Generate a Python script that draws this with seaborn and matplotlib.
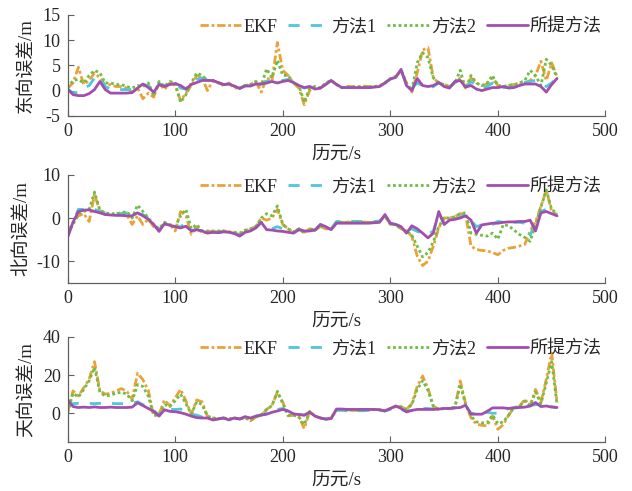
import matplotlib
matplotlib.use("Agg")
import matplotlib.pyplot as plt
import seaborn as sns
import pandas as pd

# sampling epochs (s), one value every 5 s
epoch = list(range(0, 460, 5))

methods = ["EKF", "方法1", "方法2", "所提方法"]
colors = {"EKF": "#E8A238", "方法1": "#4FC6D9", "方法2": "#6DBE45", "所提方法": "#A14FAE"}
styles = {"EKF": (0, (3, 1, 1, 1)), "方法1": (0, (4, 4)), "方法2": (0, (1, 1)), "所提方法": "-"}

# east error (m)
east_ekf = [0.5, 1.5, 4.6, 1.2, 2.0, 3.5, 2.5, 1.0, 1.2, 0.8,
            0.8, 0.5, -0.3, 0.5, -1.6, -0.5, -1.3, 1.5, 0.2, 1.5,
            1.0, -2.0, -0.5, 1.0, 3.0, 2.5, 0.0, 2.0, 1.5, 1.0,
            1.5, 0.5, 0.5, 1.0, 1.2, 1.8, -0.3, 2.5, 2.0, 9.5,
            4.0, 3.0, 1.5, 0.5, -2.8, 0.0, 0.8, 0.5, 1.5, 2.0,
            1.2, 0.6, 0.8, 0.8, 0.8, 0.9, 0.8, 0.8, 1.0, 1.5,
            2.3, 2.8, 4.0, 1.5, -0.3, 3.5, 8.0, 8.5, 2.5, 1.5,
            1.2, 0.8, 1.5, 2.5, 0.5, 2.5, 1.5, 1.0, 1.3, 2.5,
            1.0, 0.8, 1.0, 1.2, 1.3, 1.5, 2.0, 3.0, 5.8, 2.0,
            5.5, 2.8]
east_m1 = [0.3, -0.5, -0.3, 0.5, 1.0, 2.5, 2.8, 0.8, 0.3, 0.2,
           0.2, 0.2, 0.2, 0.8, 1.2, 1.0, 0.0, 1.3, 1.0, 1.3,
           1.5, 0.5, 0.3, 1.5, 2.2, 2.5, 2.2, 2.0, 1.6, 1.2,
           1.3, 0.9, 0.5, 1.0, 1.0, 1.5, 1.4, 1.8, 2.0, 1.8,
           2.0, 2.2, 1.6, 1.0, 0.5, 0.8, 0.4, 0.5, 1.3, 2.0,
           1.2, 0.6, 0.6, 0.6, 0.6, 0.6, 0.6, 0.7, 0.8, 1.5,
           2.3, 2.7, 4.0, 1.2, 0.5, 1.5, 1.0, 0.5, 0.8, 1.5,
           1.0, 0.6, 1.6, 2.2, 0.5, 1.8, 1.0, 0.5, 0.8, 1.5,
           0.5, 0.6, 0.7, 1.0, 1.3, 1.6, 1.8, 2.0, 1.5, 0.8,
           1.5, 2.5]
east_m2 = [0.5, 2.0, 2.2, 1.5, 3.0, 4.0, 3.5, 1.5, 1.5, 1.2,
           1.2, 0.8, 0.5, 1.0, 0.8, 1.5, -1.0, 1.8, 0.8, 1.8,
           1.5, -2.3, -0.8, 1.5, 3.5, 3.0, 2.0, 2.0, 1.5, 1.2,
           1.3, 0.8, 0.5, 1.0, 1.2, 1.8, 1.0, 4.3, 2.5, 6.0,
           3.0, 3.0, 1.5, 1.0, -2.3, 0.5, 0.8, 0.5, 1.5, 2.0,
           1.2, 0.6, 0.7, 0.7, 0.7, 0.7, 0.7, 0.7, 0.9, 1.5,
           2.3, 2.8, 4.0, 1.5, 0.0, 5.5, 7.5, 6.5, 2.5, 1.5,
           1.2, 0.8, 1.5, 4.0, 0.3, 3.0, 1.5, 1.0, 1.5, 3.0,
           1.0, 0.8, 1.0, 1.2, 1.5, 2.0, 4.0, 3.0, 1.0, 6.2,
           5.0, 2.6]
east_ours = [0.3, -0.8, -1.0, -1.0, -0.6, 0.2, 1.8, 0.2, -0.5, -0.5,
             -0.5, -0.5, -0.4, 0.5, 1.3, 0.6, -0.3, 1.2, 0.8, 1.2,
             1.4, 1.0, 0.3, 1.2, 1.6, 2.0, 2.0, 2.0, 1.6, 1.2,
             1.3, 0.9, 0.4, 0.9, 0.9, 1.3, 1.3, 1.5, 1.8, 1.5,
             1.8, 2.0, 1.6, 1.0, 0.6, 0.8, 0.3, 0.5, 1.2, 2.0,
             1.2, 0.6, 0.6, 0.6, 0.6, 0.6, 0.6, 0.7, 0.8, 1.5,
             2.3, 2.6, 4.2, 1.0, 0.0, 2.4, 1.0, 0.8, 1.0, 1.6,
             0.8, 0.5, 1.8, 2.0, 0.7, 1.0, 0.3, 0.0, 0.3, 0.6,
             0.6, 0.8, 0.5, 0.6, 1.0, 1.3, 1.3, 1.3, 0.8, -0.3,
             1.2, 2.4]

# north error (m)
north_ekf = [-3.5, -1.0, 0.5, 1.0, -0.8, 5.5, 1.5, 0.8, 0.8, 0.8,
             1.0, 0.8, -1.5, 0.5, -1.5, -0.3, -2.0, -2.5, -1.5, -1.5,
             -3.0, 1.5, 0.5, -3.8, -2.0, -3.5, -3.2, -3.0, -3.3, -3.0,
             -3.3, -3.5, -3.8, -3.0, -2.5, -2.0, 0.0, -0.5, 0.0, 2.0,
             -1.5, -2.5, -3.3, -2.5, -3.3, -2.5, -2.8, -2.0, -2.5, -2.5,
             -1.0, -1.0, -0.9, -1.0, -1.0, -0.9, -1.0, -1.0, -0.8, 0.5,
             -1.5, -1.5, -2.5, -3.0, -4.2, -8.8, -11.0, -10.0, -6.5, -2.3,
             0.0, 0.0, 0.3, 1.0, 0.8, -6.5, -7.3, -7.5, -7.6, -8.0,
             -8.5, -7.5, -7.0, -6.8, -6.5, -6.1, -3.0, -0.9, 2.7, 6.5,
             1.5, 0.8]
north_m1 = [-4.0, -1.0, 2.0, 2.0, 2.0, 2.0, 1.5, 1.2, 1.0, 1.0,
            1.0, 1.2, 0.8, 1.0, 0.8, 0.0, -1.5, -2.8, -1.3, -1.7,
            -2.0, -2.0, -1.2, -3.0, -2.7, -3.0, -3.3, -3.3, -3.3, -3.2,
            -3.3, -3.5, -4.0, -3.2, -2.8, -2.2, -1.0, -2.0, -2.5, -2.0,
            -2.5, -3.0, -3.3, -2.7, -3.0, -2.8, -2.8, -1.5, -2.0, -2.5,
            -0.8, -0.8, -0.8, -0.8, -0.8, -0.8, -0.8, -0.8, -0.7, 0.5,
            -1.3, -1.5, -2.0, -3.0, -2.5, -3.1, -3.5, -3.8, -3.0, 1.0,
            -1.2, -0.5, -0.3, 0.2, 0.8, -0.5, -2.0, -1.6, -1.3, -1.5,
            -0.8, -1.0, -1.0, -1.0, -1.0, -1.2, -4.0, -1.0, 1.5, 2.0,
            1.5, 0.8]
north_m2 = [-3.5, -1.5, 1.0, 1.5, 2.0, 6.0, 1.8, 1.2, 1.0, 1.0,
            1.2, 1.5, 0.0, 3.0, 1.5, 0.0, -1.5, -2.5, -1.0, -1.5,
            -2.0, 0.5, 2.0, -2.5, -1.5, -3.0, -3.0, -3.0, -3.0, -3.0,
            -3.2, -3.3, -3.5, -2.8, -2.5, -2.0, 0.0, 1.0, 0.5, 2.8,
            -1.5, -2.5, -3.3, -2.5, -3.5, -2.5, -2.8, -2.0, -2.3, -2.5,
            -1.0, -1.0, -1.0, -1.0, -1.0, -1.0, -1.0, -1.0, -0.8, 0.5,
            -1.5, -1.5, -2.5, -3.0, -4.0, -6.5, -9.0, -8.0, -5.5, -2.0,
            0.0, 0.0, 0.3, 1.0, 1.2, -3.5, -3.8, -4.0, -4.2, -3.5,
            -4.9, -1.5, -1.8, -2.8, -3.8, -4.5, -5.4, -1.5, 2.5, 6.5,
            2.0, 1.0]
north_ours = [-4.5, -1.0, 1.5, 1.8, 1.9, 1.5, 1.2, 0.8, 0.7, 0.6,
              0.6, 0.5, 0.5, 1.2, 0.5, -0.3, -1.5, -3.1, -1.3, -1.7,
              -2.0, -2.3, -1.9, -3.0, -2.7, -3.0, -3.5, -3.3, -3.4, -3.2,
              -3.3, -3.6, -4.2, -3.3, -3.0, -2.3, -1.0, -2.7, -2.8, -3.0,
              -3.1, -3.3, -3.5, -2.7, -3.0, -3.0, -2.8, -1.5, -2.0, -2.7,
              -1.2, -1.2, -1.2, -1.2, -1.2, -1.2, -1.2, -1.1, -1.0, 0.8,
              -1.2, -1.5, -2.0, -3.5, -1.8, -2.5, -3.5, -4.6, -3.5, 1.5,
              -1.5, -0.5, -0.3, 0.0, 0.5, -0.5, -3.5, -1.6, -1.4, -1.2,
              -1.2, -1.0, -0.9, -0.9, -0.8, -0.8, -0.5, -3.0, 1.2, 1.5,
              1.0, 0.5]

# up error (m)
up_ekf = [0.3, 11.7, 9.0, 13.4, 17.8, 27.0, 11.7, 10.0, 10.5, 11.7,
          12.9, 11.5, 7.3, 21.0, 17.5, 12.0, -1.4, -0.5, 7.0, 3.8,
          8.0, 12.5, 6.4, -0.5, 7.0, 6.0, -1.7, -2.5, -2.8, -2.5,
          -3.0, -2.5, -3.0, -2.5, -4.0, -2.0, -1.0, 2.0, 4.0, 11.0,
          5.9, -1.4, -1.0, -2.0, -8.0, 1.0, -1.5, -2.5, -3.1, -2.5,
          2.0, 2.0, 1.8, 1.5, 1.5, 1.8, 1.8, 2.0, 1.8, 1.2,
          2.5, 3.5, 3.5, 2.0, 5.0, 14.0, 19.5, 13.0, 3.8, 2.0,
          2.5, 2.5, 3.0, 16.9, 5.0, -2.3, -5.7, -6.3, -6.6, -1.4,
          -8.4, -6.0, -1.0, 3.0, 3.5, 7.3, 3.8, 12.5, 5.6, 17.8,
          31.5, 5.6]
up_m1 = [5.0, 5.0, 5.2, 5.0, 5.2, 5.0, 5.2, 5.0, 5.2, 5.0,
         5.0, 5.0, 5.2, 6.0, 4.5, 3.0, 1.5, -1.0, 2.5, 2.0,
         2.0, 2.2, 1.0, -0.5, -1.0, -2.0, -2.5, -3.5, -3.0, -2.5,
         -3.5, -2.5, -3.0, -2.0, -2.5, -1.5, -0.8, 0.0, 1.0, 2.0,
         2.5, 1.0, 0.0, -0.5, -1.0, 0.5, -1.5, -2.5, -3.0, -2.8,
         1.5, 1.5, 1.3, 1.3, 1.3, 1.3, 1.5, 1.5, 1.5, 1.2,
         2.0, 3.0, 2.0, 1.0, 1.5, 2.2, 2.5, 2.5, 2.2, 2.0,
         2.5, 2.5, 2.8, 3.5, 4.0, 0.0, -0.3, -0.3, 0.5, 0.0,
         0.0, 1.0, 2.5, 2.8, 3.0, 3.3, 4.0, 4.5, 4.5, 4.5,
         3.5, 3.0]
up_m2 = [0.3, 10.5, 8.5, 12.5, 17.0, 24.0, 11.0, 9.0, 9.5, 10.5,
         11.0, 10.0, 6.5, 15.0, 14.0, 9.0, -1.0, -1.0, 4.5, 3.5,
         6.5, 10.0, 5.0, -0.5, 6.0, 4.5, -1.5, -2.5, -2.8, -2.5,
         -3.0, -2.5, -3.0, -2.5, -3.5, -2.0, -1.0, 2.0, 4.0, 11.5,
         5.0, -1.0, -1.0, -2.0, -6.0, 1.0, -1.5, -2.5, -3.0, -2.5,
         2.0, 2.0, 1.8, 1.5, 1.5, 1.8, 1.8, 2.0, 1.8, 1.2,
         2.5, 3.5, 3.5, 2.0, 4.5, 12.5, 17.0, 12.0, 3.5, 2.0,
         2.5, 2.5, 3.0, 15.0, 4.5, -1.5, -4.5, -5.0, -5.0, -1.0,
         -5.5, -4.5, -1.0, 3.0, 3.5, 6.5, 4.0, 11.0, 5.0, 16.0,
         27.0, 4.5]
up_ours = [7.0, 3.5, 3.0, 3.2, 3.0, 3.3, 3.0, 3.0, 3.2, 3.0,
           3.0, 3.0, 3.2, 5.5, 4.0, 2.5, 1.0, -1.5, 1.8, 1.0,
           0.8, 0.3, -0.5, -1.5, -2.3, -2.5, -2.5, -3.5, -3.0, -2.5,
           -3.5, -2.5, -3.0, -1.8, -2.5, -1.5, -1.0, -0.5, 0.5, 1.2,
           2.0, 1.2, -0.3, -0.7, -1.0, 0.5, -1.5, -2.5, -3.1, -2.8,
           2.2, 2.2, 2.0, 2.0, 2.0, 2.0, 2.0, 2.0, 1.8, 1.2,
           2.5, 3.8, 2.5, 0.7, 1.5, 2.0, 2.0, 2.0, 2.0, 2.2,
           2.5, 2.5, 2.8, 3.0, 4.2, -0.5, -0.5, -0.5, 1.0, 2.8,
           2.8, 2.8, 2.5, 2.8, 3.0, 3.2, 3.8, 5.6, 3.5, 3.8,
           3.2, 3.0]

panels = [
    ("东向误差/m", [east_ekf, east_m1, east_m2, east_ours], (-5, 15), [-5, 0, 5, 10, 15]),
    ("北向误差/m", [north_ekf, north_m1, north_m2, north_ours], (-15, 10), [-10, 0, 10]),
    ("天向误差/m", [up_ekf, up_m1, up_m2, up_ours], (-15, 40), [0, 20, 40]),
]
boxes = [[0.107, 0.764, 0.851, 0.206],
         [0.107, 0.424, 0.851, 0.220],
         [0.107, 0.100, 0.851, 0.214]]


def build_frame(series):
    rows = []
    for name, vals in zip(methods, series):
        for t, v in zip(epoch, vals):
            rows.append({"t": t, "err": v, "method": name})
    return pd.DataFrame(rows)


def draw_panel(fig, box, ylabel, series, ylim, yticks):
    ax = fig.add_axes(box)
    df = build_frame(series)
    for name in methods:
        sns.lineplot(x="t", y="err", data=df[df["method"] == name], ax=ax,
                     color=colors[name], linestyle=styles[name], linewidth=2.0, label=name)
    ax.set_xlim(0, 500)
    ax.set_ylim(*ylim)
    ax.set_xticks([0, 100, 200, 300, 400, 500])
    ax.set_yticks(yticks)
    ax.set_xlabel("历元/s", fontsize=13.5, labelpad=4)
    ax.set_ylabel(ylabel, fontsize=13.5, labelpad=5)
    ax.tick_params(direction="in", length=4, width=0.8, labelsize=13, color="#606060", pad=5)
    sns.despine(ax=ax)
    for side in ["left", "bottom"]:
        ax.spines[side].set_color("#606060")
        ax.spines[side].set_linewidth(0.9)
    ax.legend(ncol=4, loc="upper right", frameon=False, fontsize=13,
              handlelength=2.3, handletextpad=0.1, columnspacing=0.6,
              borderaxespad=0.0, borderpad=0.2)
    return ax


if __name__ == "__main__":
    sns.set_theme(style="ticks")
    plt.rcParams["font.family"] = ["Liberation Serif", "Noto Sans CJK SC"]
    plt.rcParams["axes.unicode_minus"] = False
    fig = plt.figure(figsize=(6.32, 4.91), dpi=100)
    for box, (ylabel, series, ylim, yticks) in zip(boxes, panels):
        draw_panel(fig, box, ylabel, series, ylim, yticks)
    fig.savefig("out.png", dpi=100, facecolor="white")
